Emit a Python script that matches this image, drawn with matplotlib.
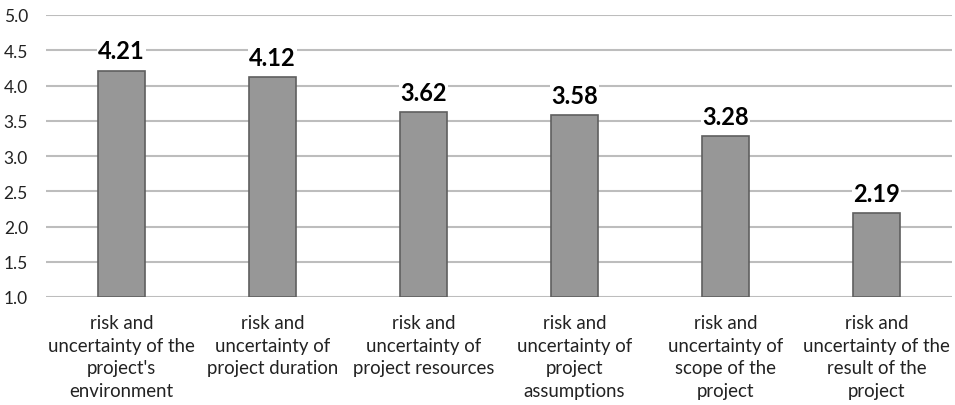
import matplotlib
matplotlib.use('Agg')
import matplotlib.pyplot as plt
import numpy as np

plt.rcParams['font.family'] = ['Lato', 'DejaVu Sans']

categories = [
    "risk and\nuncertainty of the\nproject's\nenvironment",
    "risk and\nuncertainty of\nproject duration",
    "risk and\nuncertainty of\nproject resources",
    "risk and\nuncertainty of\nproject\nassumptions",
    "risk and\nuncertainty of\nscope of the\nproject",
    "risk and\nuncertainty of the\nresult of the\nproject",
]
scores = [4.21, 4.12, 3.62, 3.58, 3.28, 2.19]
y_ticks = [1.0, 1.5, 2.0, 2.5, 3.0, 3.5, 4.0, 4.5, 5.0]

BAR_COLOR = '#979797'
EDGE_COLOR = '#5f5f5f'
GRID_COLOR = '#bdbdbd'

fig = plt.figure(figsize=(9.55, 4.06), dpi=100)
ax = fig.add_axes([46 / 955, 108 / 406, 906 / 955, 282 / 406])

x = np.arange(len(scores))
bottom = y_ticks[0]
heights = [s - bottom for s in scores]

for yt in y_ticks:
    ax.axhline(yt, color=GRID_COLOR, linewidth=1.5, zorder=0)

ax.bar(x, heights, bottom=bottom, width=0.31, color=BAR_COLOR,
       edgecolor=EDGE_COLOR, linewidth=1.2, zorder=2)

for xi, s in zip(x, scores):
    ax.annotate(f'{s:.2f}', xy=(xi, s), xytext=(0, 6), textcoords='offset points',
                ha='center', va='bottom', fontsize=17, fontweight='bold',
                color='black', zorder=3,
                bbox=dict(boxstyle='square,pad=0.05', facecolor='white', edgecolor='none'))

ax.set_xlim(-0.5, len(scores) - 0.5)
ax.set_ylim(bottom, 5.0)
ax.set_yticks(y_ticks)
ax.set_yticklabels([f'{v:.1f}' for v in y_ticks], fontsize=12.5, color='#222222')
ax.set_xticks(x)
ax.set_xticklabels(categories, fontsize=13.4, color='#222222', linespacing=1.42,
                   va='top')
ax.tick_params(axis='both', length=0)
ax.tick_params(axis='y', pad=13)
ax.tick_params(axis='x', pad=12)

for spine in ax.spines.values():
    spine.set_visible(False)

fig.savefig('out.png', dpi=100, facecolor='white')
